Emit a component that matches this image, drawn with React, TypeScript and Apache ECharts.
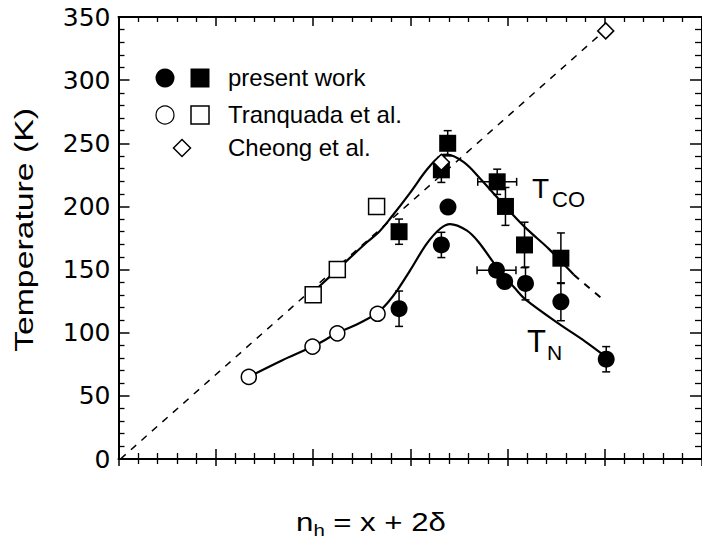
import { useEffect, useRef } from "react";
import * as echarts from "echarts";

// x = n_h (hole concentration), y = temperature (K)
const xMin = 0;
const xMax = 0.6;
const xInterval = 0.1;
const yMin = 0;
const yMax = 350;
const yInterval = 50;

// Tranquada et al. (open symbols)
const tranquadaTN: number[][] = [[0.134, 65], [0.1995, 89], [0.225, 99.5], [0.2664, 115]];
const tranquadaTCO: number[][] = [[0.2002, 130], [0.225, 150], [0.2654, 200]];
// Cheong et al. (diamonds)
const cheongTCO: number[][] = [[0.332, 235], [0.501, 339]];
// present work: [n_h, T, ±T, ±n_h]
const presentTN: number[][] = [
  [0.2885, 119, 14, 0], [0.332, 169.5, 10, 0], [0.3388, 199.5, 0, 0], [0.3887, 149.5, 0, 0.02],
  [0.3971, 140.5, 0, 0], [0.4185, 139, 13, 0], [0.4549, 124.5, 15, 0], [0.5015, 79, 10, 0],
];
const presentTCO: number[][] = [
  [0.2885, 180, 10, 0], [0.332, 229, 10, 0], [0.3385, 250, 10, 0], [0.3894, 219.5, 10, 0.02],
  [0.3979, 200, 15, 0], [0.4175, 169.5, 18, 0], [0.4549, 159, 20, 0],
];
// guide curves
const tcoCurve: number[][] = [
  [0.2, 132], [0.232, 155], [0.256, 172], [0.268, 180], [0.28, 191], [0.3, 211], [0.317, 229],
  [0.331, 240], [0.338, 241], [0.355, 235], [0.372, 222], [0.389, 207.5], [0.406, 193],
  [0.42, 182], [0.443, 166], [0.468, 146],
];
const tcoExtension: number[][] = [[0.468, 146], [0.501, 124.5]];
const tnCurve: number[][] = [
  [0.134, 65], [0.168, 78], [0.1995, 89], [0.225, 99.5], [0.25, 108.5], [0.2664, 116], [0.277, 124],
  [0.287, 134], [0.3, 149.5], [0.317, 170.5], [0.331, 182.5], [0.341, 186], [0.358, 181],
  [0.37, 172], [0.389, 152], [0.409, 134], [0.419, 126], [0.453, 107], [0.48, 93], [0.501, 81],
];
const linearGuide: number[][] = [[0.002, 0], [0.501, 340]];

const FONT = '"Liberation Sans", Arial, Helvetica, sans-serif';

export default function App() {
  const ref = useRef<HTMLDivElement>(null);
  useEffect(() => {
    if (!ref.current) return;
    const chart = echarts.init(ref.current, undefined, { renderer: "svg" });

    const axisCommon = (pos: string, inside: boolean, showLine: boolean, len: number, minorLen: number) => ({
      type: "value",
      position: pos,
      min: xMin,
      max: xMax,
      interval: xInterval,
      axisLine: { show: showLine, onZero: false, lineStyle: { color: "#000", width: 2 } },
      axisTick: { show: true, inside, length: len, lineStyle: { color: "#000", width: 1.5 } },
      minorTick: { show: true, splitNumber: 5, length: minorLen, lineStyle: { color: "#000", width: 1.3 } },
      axisLabel: { show: false },
      splitLine: { show: false },
    });

    const yCommon = (pos: string, showLabel: boolean, len: number, minorLen: number) => ({
      type: "value",
      position: pos,
      min: yMin,
      max: yMax,
      interval: yInterval,
      axisLine: { show: true, onZero: false, lineStyle: { color: "#000", width: 2 } },
      axisTick: { show: true, inside: true, length: len, lineStyle: { color: "#000", width: 1.5 } },
      minorTick: { show: true, splitNumber: 5, length: minorLen, lineStyle: { color: "#000", width: 1.3 } },
      axisLabel: {
        show: showLabel,
        margin: 8,
        color: "#000",
        fontSize: 25,
        fontFamily: '"DejaVu Sans", sans-serif',
        padding: [11, 0, 0, 0],
      },
      splitLine: { show: false },
    });

    const errorRender = (params: any, api: any) => {
      const x = api.value(0);
      const y = api.value(1);
      const dy = api.value(2);
      const dx = api.value(3);
      const style = { stroke: "#000", lineWidth: 1.5 };
      const cap = 4;
      const children: any[] = [];
      if (dy > 0) {
        const t = api.coord([x, y + dy]);
        const b = api.coord([x, y - dy]);
        children.push({ type: "line", shape: { x1: t[0], y1: t[1], x2: b[0], y2: b[1] }, style });
        children.push({ type: "line", shape: { x1: t[0] - cap, y1: t[1], x2: t[0] + cap, y2: t[1] }, style });
        children.push({ type: "line", shape: { x1: b[0] - cap, y1: b[1], x2: b[0] + cap, y2: b[1] }, style });
      }
      if (dx > 0) {
        const l = api.coord([x - dx, y]);
        const r = api.coord([x + dx, y]);
        children.push({ type: "line", shape: { x1: l[0], y1: l[1], x2: r[0], y2: r[1] }, style });
        children.push({ type: "line", shape: { x1: l[0], y1: l[1] - cap, x2: l[0], y2: l[1] + cap }, style });
        children.push({ type: "line", shape: { x1: r[0], y1: r[1] - cap, x2: r[0], y2: r[1] + cap }, style });
      }
      return { type: "group", children };
    };

    const txt = (text: string, x: number, y: number, size: number, extra: any = {}) => ({
      type: "text",
      x,
      y,
      z: 100,
      ...extra,
      style: { text, fill: "#000", fontSize: size, fontFamily: FONT, align: "left", verticalAlign: "middle", ...(extra.style || {}) },
    });

    const openStyle = { color: "#fff", borderColor: "#000", borderWidth: 1.5, opacity: 1 };
    const filledStyle = { color: "#000", opacity: 1 };

    const option: any = {
      animation: false,
      backgroundColor: "#fff",
      grid: { left: 118.5, top: 17, width: 589, height: 442, containLabel: false },
      xAxis: [
        axisCommon("bottom", true, true, 10, 6),
        axisCommon("top", true, true, 9, 5),
        axisCommon("bottom", false, false, 7, 5),
      ],
      yAxis: [yCommon("left", true, 11, 6), yCommon("right", false, 12, 7)],
      series: [
        {
          type: "line",
          data: linearGuide,
          symbol: "none",
          lineStyle: { color: "#000", width: 1.5, type: [7, 7] },
          z: 1,
        },
        {
          type: "line",
          data: tcoCurve,
          smooth: 0.35,
          symbol: "none",
          lineStyle: { color: "#000", width: 2.2 },
          z: 2,
        },
        {
          type: "line",
          data: tcoExtension,
          symbol: "none",
          lineStyle: { color: "#000", width: 2, type: [7, 7] },
          z: 2,
        },
        {
          type: "line",
          data: tnCurve,
          smooth: 0.35,
          symbol: "none",
          lineStyle: { color: "#000", width: 2.2 },
          z: 2,
        },
        {
          type: "custom",
          data: presentTN,
          encode: { x: 0, y: 1 },
          renderItem: errorRender,
          z: 3,
        },
        {
          type: "custom",
          data: presentTCO,
          encode: { x: 0, y: 1 },
          renderItem: errorRender,
          z: 3,
        },
        {
          type: "scatter",
          data: tranquadaTN,
          symbol: "circle",
          symbolSize: 15,
          itemStyle: openStyle,
          z: 4,
        },
        {
          type: "scatter",
          data: tranquadaTCO,
          symbol: "rect",
          symbolSize: 16,
          itemStyle: openStyle,
          z: 4,
        },
        {
          type: "scatter",
          data: presentTN.map((d) => [d[0], d[1]]),
          symbol: "circle",
          symbolSize: 17,
          itemStyle: filledStyle,
          z: 5,
        },
        {
          type: "scatter",
          data: presentTCO.map((d) => [d[0], d[1]]),
          symbol: "rect",
          symbolSize: 17,
          itemStyle: filledStyle,
          z: 5,
        },
        {
          type: "scatter",
          data: cheongTCO,
          symbol: "diamond",
          symbolSize: 16,
          itemStyle: openStyle,
          z: 6,
        },
      ],
      graphic: [
        // legend
        { type: "circle", z: 100, shape: { cx: 165, cy: 78, r: 9.5 }, style: { fill: "#000" } },
        { type: "rect", z: 100, shape: { x: 190.5, y: 68.5, width: 19, height: 19 }, style: { fill: "#000" } },
        { type: "circle", z: 100, shape: { cx: 165, cy: 115, r: 9 }, style: { fill: "#fff", stroke: "#000", lineWidth: 1.2 } },
        { type: "rect", z: 100, shape: { x: 191, y: 106, width: 18, height: 18 }, style: { fill: "#fff", stroke: "#000", lineWidth: 1.5 } },
        {
          type: "polygon",
          z: 100,
          shape: { points: [[182, 139.5], [190.5, 148], [182, 156.5], [173.5, 148]] },
          style: { fill: "#fff", stroke: "#000", lineWidth: 1.5 },
        },
        txt("present work", 228, 77, 24),
        txt("Tranquada et al.", 228, 114, 24),
        txt("Cheong et al.", 228, 147, 24),
        // curve labels
        txt("T", 532, 188, 28),
        txt("CO", 552, 199.5, 22),
        txt("T", 527, 341.5, 31),
        txt("N", 547, 352.5, 21),
        // axis titles
        txt("Temperature (K)", 24, 230, 25, { rotation: Math.PI / 2, scaleX: 1.35, style: { align: "center" } }),
        {
          type: "group",
          x: 296,
          y: 522,
          scaleX: 1.2,
          children: [
            txt("n", 0, 0, 26),
            txt("h", 14.5, 8, 17),
            txt("= x + 2δ", 31, 0, 26),
          ],
        },
      ],
    };
    chart.setOption(option);
    return () => chart.dispose();
  }, []);

  return (
    <div
      ref={ref}
      style={{ position: "fixed", left: 0, top: 0, width: 702, height: 546, background: "#fff" }}
    />
  );
}
